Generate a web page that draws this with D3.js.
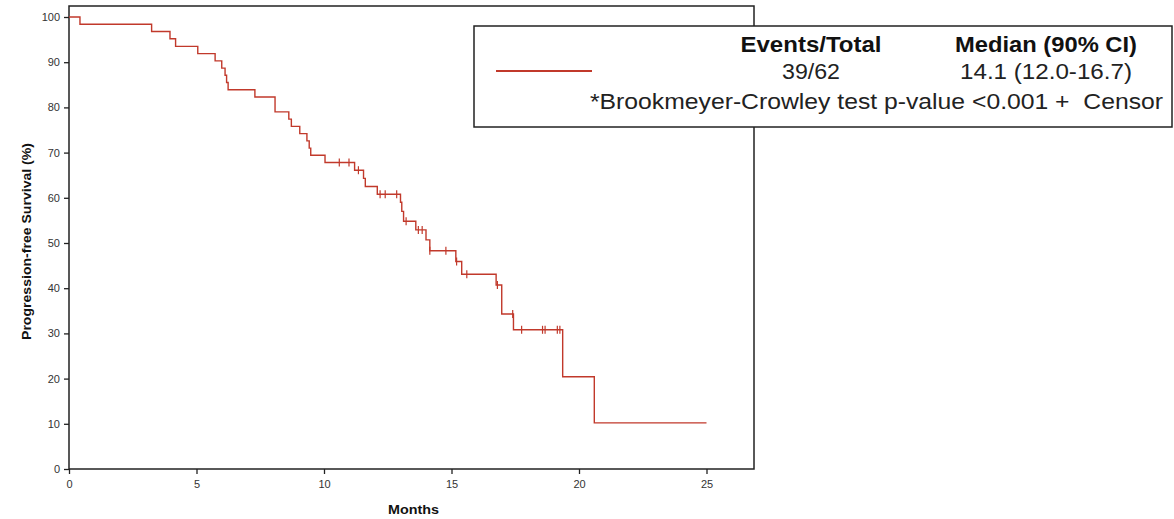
<!DOCTYPE html>
<html><head><meta charset="utf-8">
<script src="https://cdn.jsdelivr.net/npm/d3@7"></script>
<style>body{margin:0;background:#fff;}svg{display:block;}</style>
</head><body>
<svg id="c" width="1174" height="519"></svg>
<script>
// Kaplan-Meier step events: time (months) and survival (%) after the drop
const eventTimes = [0.43,3.24,3.96,4.18,5.05,5.73,5.99,6.12,6.18,6.24,7.29,8.08,8.62,8.72,9.05,9.33,9.42,9.48,10.04,11.2,11.55,11.62,12.09,13.0,13.05,13.12,13.6,14.0,14.15,15.17,15.4,16.75,16.97,17.43,19.36,20.6];
const eventSurv  = [98.4,96.8,95.2,93.5,91.9,90.3,88.7,87.1,85.5,83.9,82.3,79.0,77.4,75.8,74.2,72.6,71.0,69.4,67.8,66.1,64.3,62.5,60.8,59.0,57.0,54.8,52.9,50.7,48.3,45.9,43.1,40.7,34.3,30.8,20.4,10.2];
const lastTime = 25.0;
// censor marks: time and survival level
const censorTimes = [10.6,10.98,11.35,12.2,12.4,12.85,13.22,13.7,13.85,14.15,14.78,15.2,15.6,16.8,17.4,17.75,18.57,18.67,19.15,19.25];
const censorSurv  = [67.8,67.8,66.1,60.8,60.8,60.8,54.8,52.9,52.9,48.3,48.3,45.9,43.1,40.7,34.3,30.8,30.8,30.8,30.8,30.8];
const xTicks = [0,5,10,15,20,25];
const yTicks = [0,10,20,30,40,50,60,70,80,90,100];
const legendHeaders = ["Events/Total","Median (90% CI)"];
const legendValues = ["39/62","14.1 (12.0-16.7)"];
const legendNote = "*Brookmeyer-Crowley test p-value <0.001 +  Censor";
const xLabel = "Months", yLabel = "Progression-free Survival (%)";

const col = "#c1392b";
const svg = d3.select("#c");
const L=69, R=754, T=6, B=469;
const x = d3.scaleLinear().domain([0,25]).range([L, L+25*25.5]);
const y = d3.scaleLinear().domain([0,100]).range([B, 17]);

// frame
svg.append("rect").attr("x",L).attr("y",T).attr("width",R-L).attr("height",B-T)
  .attr("fill","none").attr("stroke","#222").attr("stroke-width",1.5);

const xa = svg.append("g").attr("transform",`translate(0,${B})`)
  .call(d3.axisBottom(x).tickValues(xTicks).tickSize(5).tickPadding(6));
const ya = svg.append("g").attr("transform",`translate(${L},0)`)
  .call(d3.axisLeft(y).tickValues(yTicks).tickSize(5).tickPadding(4));
[xa,ya].forEach(g=>{
  g.select(".domain").remove();
  g.selectAll("line").attr("stroke","#222").attr("stroke-width",1.3);
  g.selectAll("text").attr("font-family","Liberation Sans, Arial, sans-serif").attr("font-size",11).attr("fill","#333");
});

// step path
const pts = [[0,100]];
eventTimes.forEach((t,i)=>pts.push([t,eventSurv[i]]));
pts.push([lastTime, eventSurv[eventSurv.length-1]]);
const line = d3.line().x(d=>x(d[0])).y(d=>y(d[1])).curve(d3.curveStepAfter);
svg.append("path").datum(pts).attr("d",line).attr("fill","none").attr("stroke",col).attr("stroke-width",1.4);

// censor marks
svg.append("g").selectAll("line").data(censorTimes).join("line")
  .attr("x1",(d)=>x(d)).attr("x2",d=>x(d))
  .attr("y1",(d,i)=>y(censorSurv[i])-4).attr("y2",(d,i)=>y(censorSurv[i])+4)
  .attr("stroke",col).attr("stroke-width",1.2);

// axis labels
svg.append("text").attr("x",388).attr("y",514)
  .attr("textLength",51).attr("lengthAdjust","spacingAndGlyphs")
  .attr("font-family","Liberation Sans, Arial, sans-serif").attr("font-weight","bold").attr("font-size",13).attr("fill","#111").text(xLabel);
svg.append("text").attr("transform","translate(31,340) rotate(-90)")
  .attr("textLength",197).attr("lengthAdjust","spacingAndGlyphs")
  .attr("font-family","Liberation Sans, Arial, sans-serif").attr("font-weight","bold").attr("font-size",12.5).attr("fill","#111").text(yLabel);

// legend
const lg = svg.append("g");
lg.append("rect").attr("x",474).attr("y",26).attr("width",698).attr("height",101)
  .attr("fill","#fff").attr("stroke","#222").attr("stroke-width",1.5);
lg.append("line").attr("x1",496).attr("x2",592).attr("y1",71).attr("y2",71).attr("stroke",col).attr("stroke-width",2.2);
const cx = [811,1046];
const hw = [141,182], vw = [58,172];
const lf = "Liberation Sans, Arial, sans-serif";
legendHeaders.forEach((h,i)=>lg.append("text").attr("x",cx[i]-hw[i]/2).attr("y",52)
  .attr("textLength",hw[i]).attr("lengthAdjust","spacingAndGlyphs")
  .attr("font-family",lf).attr("font-weight","bold").attr("font-size",22).attr("fill","#111").text(h));
legendValues.forEach((h,i)=>lg.append("text").attr("x",cx[i]-vw[i]/2).attr("y",79)
  .attr("textLength",vw[i]).attr("lengthAdjust","spacingAndGlyphs")
  .attr("font-family",lf).attr("font-size",22).attr("fill","#222").text(h));
lg.append("text").attr("x",590).attr("y",109).attr("font-family",lf).attr("font-size",22).attr("fill","#222")
  .attr("textLength",573).attr("lengthAdjust","spacingAndGlyphs")
  .attr("xml:space","preserve").style("white-space","pre").text(legendNote);
</script>
</body></html>
